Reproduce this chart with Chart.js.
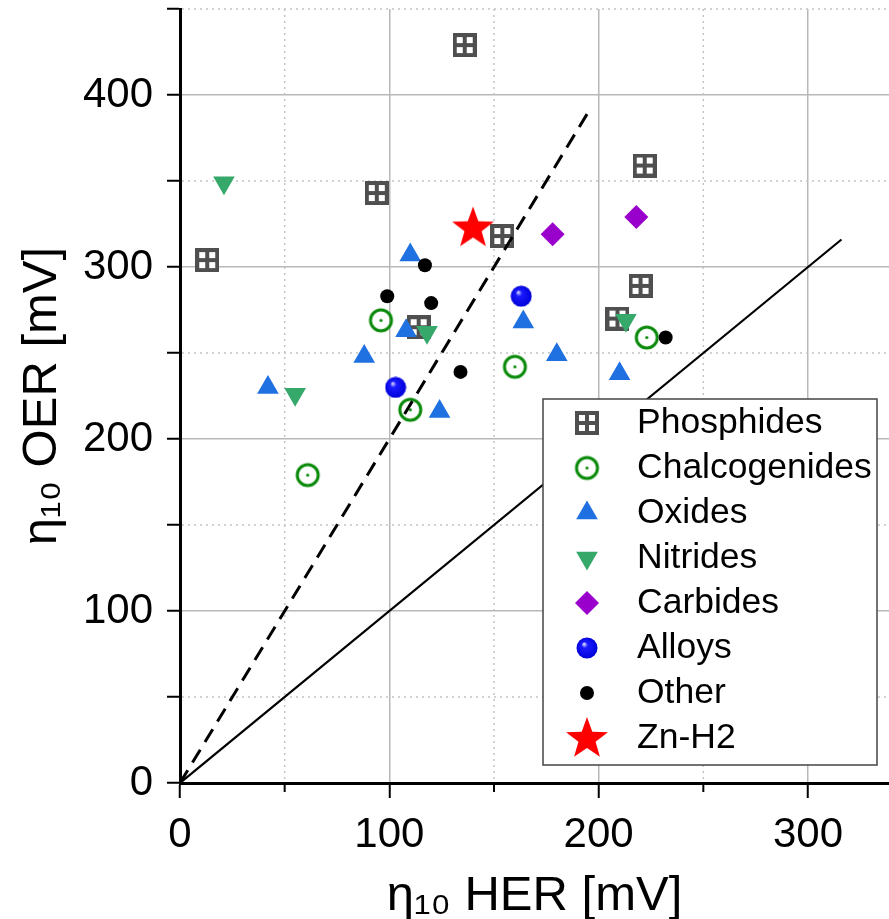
<!DOCTYPE html>
<html>
<head>
<meta charset="utf-8">
<script src="https://cdn.jsdelivr.net/npm/chart.js@4.4.1/dist/chart.umd.min.js"></script>
<style>
  html, body { margin: 0; padding: 0; background: #fff; overflow: hidden; }
</style>
</head>
<body>
<canvas id="myChart" width="889" height="919"></canvas>
<script>
// values, [HER, OER] in mV
var phosphides = [[136, 429], [94, 343], [13, 304], [154, 318], [114, 265], [222, 359], [220, 289], [209, 270]];
var chalcogenides = [[96, 269], [110, 217], [61, 179], [160, 242], [223, 259]];
var oxides = [[110, 307], [108, 263], [88, 248], [42, 230], [124, 216], [164, 268], [180, 249], [210, 238]];
var nitrides = [[21, 349], [118, 262], [55, 226], [213, 269]];
var carbides = [[178, 319], [218, 329]];
var alloys = [[163, 283], [103, 230]];
var other = [[117, 301], [99, 283], [120, 279], [134, 239], [232, 259]];
var znH2 = [[140, 323]];

// guide lines OER = 2*HER (dashed) and OER = HER (solid)
var guideDashed = [[0, 0], [196, 392]];
var guideSolid = [[0, 0], [316, 316]];

var seriesNames = ['Phosphides', 'Chalcogenides', 'Oxides', 'Nitrides', 'Carbides', 'Alloys', 'Other', 'Zn-H2'];
var xTickLabels = [0, 100, 200, 300];
var yTickLabels = [0, 100, 200, 300, 400];

function toXY(arr) {
    return arr.map(function (p) { return { x: p[0], y: p[1] }; });
}

function makeIcon(size, draw) {
    var c = document.createElement('canvas');
    c.width = size;
    c.height = size;
    draw(c.getContext('2d'), size);
    return c;
}

// grey square with a white 2x2 window pattern
var phosIcon = makeIcon(24, function (g) {
    g.fillStyle = '#4f4f4f';
    g.fillRect(0, 0, 24, 24);
    g.fillStyle = '#ffffff';
    g.fillRect(4, 4, 6, 6);
    g.fillRect(14, 4, 6, 6);
    g.fillRect(4, 14, 6, 6);
    g.fillRect(14, 14, 6, 6);
});

// open ring with a dot in the middle
var chalcIcon = makeIcon(27, function (g) {
    g.strokeStyle = '#0a8a0a';
    g.lineWidth = 3;
    g.beginPath();
    g.arc(13.5, 13.5, 10.5, 0, Math.PI * 2);
    g.stroke();
    g.fillStyle = '#0a8a0a';
    g.beginPath();
    g.arc(13.5, 13.5, 1.6, 0, Math.PI * 2);
    g.fill();
});

// shaded ball
var alloyIcon = makeIcon(22, function (g) {
    var grad = g.createRadialGradient(8, 7, 0.5, 11, 11, 11);
    grad.addColorStop(0, '#d0d0ff');
    grad.addColorStop(0.25, '#1a1aff');
    grad.addColorStop(1, '#0000d8');
    g.fillStyle = grad;
    g.beginPath();
    g.arc(11, 11, 10.5, 0, Math.PI * 2);
    g.fill();
});

// filled five point star
var starIcon = makeIcon(46, function (g) {
    var cx = 23, cy = 24, R = 22, r = 9;
    g.fillStyle = '#ff0000';
    g.beginPath();
    for (var i = 0; i < 10; i++) {
        var a = -Math.PI / 2 + i * Math.PI / 5;
        var rad = i % 2 === 0 ? R : r;
        g.lineTo(cx + Math.cos(a) * rad, cy + Math.sin(a) * rad);
    }
    g.closePath();
    g.fill();
});

function isMajor(list) {
    return function (c) {
        return c.tick && list.indexOf(c.tick.value) >= 0;
    };
}
var xMajor = isMajor(xTickLabels);
var yMajor = isMajor(yTickLabels);

// dotted grid at the in-between ticks, plus short minor ticks on x
var minorGrid = {
    id: 'minorGrid',
    beforeDatasetsDraw: function (chart) {
        var ctx = chart.ctx, a = chart.chartArea;
        var xs = chart.scales.x, ys = chart.scales.y;
        ctx.save();
        ctx.strokeStyle = '#c4c4c4';
        ctx.lineWidth = 1.5;
        ctx.setLineDash([2, 4]);
        xs.ticks.forEach(function (t) {
            if (xTickLabels.indexOf(t.value) >= 0) return;
            var px = xs.getPixelForValue(t.value);
            ctx.beginPath();
            ctx.moveTo(px, a.top);
            ctx.lineTo(px, a.bottom - 2);
            ctx.stroke();
        });
        ys.ticks.forEach(function (t) {
            if (yTickLabels.indexOf(t.value) >= 0) return;
            var py = ys.getPixelForValue(t.value);
            ctx.beginPath();
            ctx.moveTo(a.left + 2, py);
            ctx.lineTo(a.right, py);
            ctx.stroke();
        });
        ctx.setLineDash([]);
        ctx.strokeStyle = '#000';
        ctx.lineWidth = 2;
        xs.ticks.forEach(function (t) {
            if (xTickLabels.indexOf(t.value) >= 0) return;
            var px = xs.getPixelForValue(t.value);
            ctx.beginPath();
            ctx.moveTo(px, a.bottom);
            ctx.lineTo(px, a.bottom + 9);
            ctx.stroke();
        });
        ctx.restore();
    }
};

// boxed legend inside the plot, lower right
var legendBox = {
    id: 'legendBox',
    afterDraw: function (chart) {
        var ctx = chart.ctx;
        var left = 543, top = 399, w = 334, h = 366;
        ctx.save();
        ctx.fillStyle = '#fff';
        ctx.fillRect(left, top, w, h);
        ctx.strokeStyle = '#444';
        ctx.lineWidth = 1.5;
        ctx.strokeRect(left, top, w, h);
        ctx.font = '35.5px "Liberation Sans", Arial, sans-serif';
        ctx.textBaseline = 'middle';
        var row = 0;
        chart.data.datasets.forEach(function (ds) {
            if (seriesNames.indexOf(ds.label) < 0) return;
            var y = top + 24 + row * 45;
            ctx.fillStyle = ds.backgroundColor || '#000';
            Chart.helpers.drawPoint(ctx, {
                pointStyle: ds.pointStyle,
                radius: ds.pointRadius,
                rotation: ds.pointRotation || 0,
                borderWidth: 0
            }, left + 44, y);
            ctx.fillStyle = '#000';
            ctx.fillText(ds.label, left + 94, y);
            row++;
        });
        ctx.restore();
    }
};

Chart.defaults.font.family = '"Liberation Sans", Arial, sans-serif';
Chart.defaults.color = '#000';

var ctx = document.getElementById('myChart').getContext('2d');
var chart = new Chart(ctx, {
    type: 'scatter',
    data: {
        datasets: [
            { label: 'OER = 2 HER', data: toXY(guideDashed), order: 0, showLine: true, borderColor: '#000', borderWidth: 3, borderDash: [15, 9], pointRadius: 0, fill: false },
            { label: 'OER = HER', data: toXY(guideSolid), order: 0, showLine: true, borderColor: '#000', borderWidth: 2.2, pointRadius: 0, fill: false },
            { label: seriesNames[0], data: toXY(phosphides), order: 9, pointStyle: phosIcon, pointRadius: 12 },
            { label: seriesNames[1], data: toXY(chalcogenides), order: 8, pointStyle: chalcIcon, pointRadius: 12 },
            { label: seriesNames[2], data: toXY(oxides), order: 7, pointStyle: 'triangle', pointRadius: 12.5, backgroundColor: '#1f70e0', borderWidth: 0 },
            { label: seriesNames[3], data: toXY(nitrides), order: 6, pointStyle: 'triangle', pointRotation: 180, pointRadius: 12.5, backgroundColor: '#35a86a', borderWidth: 0 },
            { label: seriesNames[4], data: toXY(carbides), order: 5, pointStyle: 'rectRot', pointRadius: 12, backgroundColor: '#9900cc', borderWidth: 0 },
            { label: seriesNames[5], data: toXY(alloys), order: 4, pointStyle: alloyIcon, pointRadius: 10 },
            { label: seriesNames[6], data: toXY(other), order: 3, pointStyle: 'circle', pointRadius: 7, backgroundColor: '#000', borderWidth: 0 },
            { label: seriesNames[7], data: toXY(znH2), order: 2, pointStyle: starIcon, pointRadius: 20 }
        ]
    },
    options: {
        responsive: false,
        animation: false,
        events: [],
        layout: { autoPadding: false, padding: { top: 9, left: 0, right: 0, bottom: 0 } },
        plugins: { legend: { display: false }, tooltip: { enabled: false } },
        scales: {
            x: {
                type: 'linear',
                min: 0,
                max: 338.7,
                afterFit: function (s) { s.height = 136; s.paddingLeft = 0; s.paddingRight = 0; },
                ticks: {
                    stepSize: 50,
                    includeBounds: false,
                    autoSkip: false,
                    maxRotation: 0,
                    padding: 12,
                    font: { size: 42 },
                    callback: function (v) { return xTickLabels.indexOf(v) >= 0 ? String(v) : ''; }
                },
                grid: {
                    color: function (c) { return xMajor(c) ? '#b8b8b8' : 'rgba(0,0,0,0)'; },
                    lineWidth: 1.5,
                    tickLength: 15,
                    tickWidth: 2,
                    tickColor: function (c) { return xMajor(c) ? '#000' : 'rgba(0,0,0,0)'; }
                },
                border: { color: '#000', width: 3 },
                title: { display: true, text: 'η₁₀ HER [mV]', font: { size: 49 }, padding: { top: 0, bottom: -7 } }
            },
            y: {
                min: 0,
                max: 450,
                afterFit: function (s) { s.width = 180; s.paddingTop = 0; s.paddingBottom = 0; },
                ticks: {
                    stepSize: 50,
                    autoSkip: false,
                    padding: 14,
                    font: { size: 42 },
                    callback: function (v) { return yTickLabels.indexOf(v) >= 0 ? String(v) : ''; }
                },
                grid: {
                    color: function (c) { return yMajor(c) ? '#b8b8b8' : 'rgba(0,0,0,0)'; },
                    lineWidth: 1.5,
                    tickLength: 13,
                    tickWidth: 2,
                    tickColor: '#000'
                },
                border: { color: '#000', width: 3 },
                title: { display: true, text: 'η₁₀ OER [mV]', font: { size: 49 }, padding: { top: 13, bottom: 0 } }
            }
        }
    },
    plugins: [minorGrid, legendBox]
});
</script>
</body>
</html>
